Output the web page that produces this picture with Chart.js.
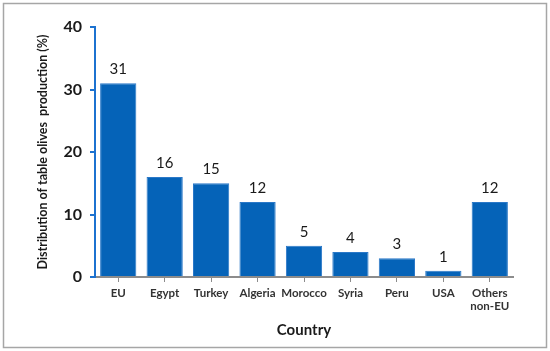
<!DOCTYPE html>
<html>
<head>
<meta charset="utf-8">
<script src="https://cdn.jsdelivr.net/npm/chart.js@4"></script>
<style>
  html, body { margin: 0; padding: 0; background: #fff; }
  #wrap { width: 550px; height: 351px; }
</style>
</head>
<body>
<div id="wrap"><canvas id="olivesChart" width="550" height="351"></canvas></div>
<script>
const countries = ['EU', 'Egypt', 'Turkey', 'Algeria', 'Morocco', 'Syria', 'Peru', 'USA', ['Others', 'non-EU']];
const shares = [31, 16, 15, 12, 5, 4, 3, 1, 12];
const yTicks = [0, 10, 20, 30, 40];

const barBlue = '#0563b8';
const axisBlue = '#1c72d0';
const FONT = 'Lato, "Liberation Sans", sans-serif';

// gray frame round the whole picture
const framePlugin = {
    id: 'frame',
    beforeDraw(chart) {
        const c = chart.ctx;
        c.save();
        c.strokeStyle = '#a6a6a6';
        c.lineWidth = 1.5;
        c.strokeRect(3.5, 3.5, 543, 344);
        c.restore();
    }
};

// value written above each bar
const valueLabels = {
    id: 'valueLabels',
    afterDatasetsDraw(chart) {
        const c = chart.ctx;
        const meta = chart.getDatasetMeta(0);
        c.save();
        c.font = '15px ' + FONT;
        c.fillStyle = '#1a1a1a';
        c.textAlign = 'center';
        c.textBaseline = 'middle';
        meta.data.forEach((bar, i) => {
            c.fillText(String(shares[i]), bar.x, bar.y - 14);
        });
        c.restore();
    }
};

new Chart(document.getElementById('olivesChart'), {
    type: 'bar',
    data: {
        labels: countries,
        datasets: [{
            data: shares,
            backgroundColor: barBlue,
            borderColor: '#2a78c8',
            borderWidth: 1,
            barPercentage: 0.78,
            categoryPercentage: 1
        }]
    },
    options: {
        responsive: false,
        animation: false,
        layout: { padding: { left: 33, top: 27, right: 37, bottom: 0 } },
        plugins: {
            legend: { display: false },
            tooltip: { enabled: false }
        },
        scales: {
            x: {
                offset: true,
                grid: { display: true, drawOnChartArea: false, offset: false, color: '#8c8c8c', tickLength: 5, lineWidth: 1 },
                border: { color: '#8c8c8c', width: 2 },
                ticks: {
                    color: '#333',
                    font: { family: FONT, size: 11.5, weight: 'bold' },
                    padding: 4,
                    maxRotation: 0,
                    autoSkip: false
                },
                title: {
                    display: true,
                    text: 'Country',
                    color: '#1a1a1a',
                    font: { family: FONT, size: 15, weight: 'bold' },
                    padding: { top: 2, bottom: 12 }
                },
                afterFit(scale) { scale.height = 74; }
            },
            y: {
                min: 0,
                max: 40,
                afterBuildTicks(scale) { scale.ticks = yTicks.map(v => ({ value: v })); },
                grid: { display: true, drawOnChartArea: false, color: axisBlue, tickLength: 5, lineWidth: 2 },
                border: { color: axisBlue, width: 2 },
                ticks: {
                    color: '#1a1a1a',
                    font: { family: FONT, size: 16, weight: 'bold' },
                    padding: 8
                },
                title: {
                    display: true,
                    text: 'Distribution of table olives  production (%)',
                    color: '#1a1a1a',
                    font: { family: FONT, size: 12.5, weight: 'bold' },
                    padding: { top: 2, bottom: 0 }
                },
                afterFit(scale) { scale.width = 62; }
            }
        }
    },
    plugins: [framePlugin, valueLabels]
});
</script>
</body>
</html>
